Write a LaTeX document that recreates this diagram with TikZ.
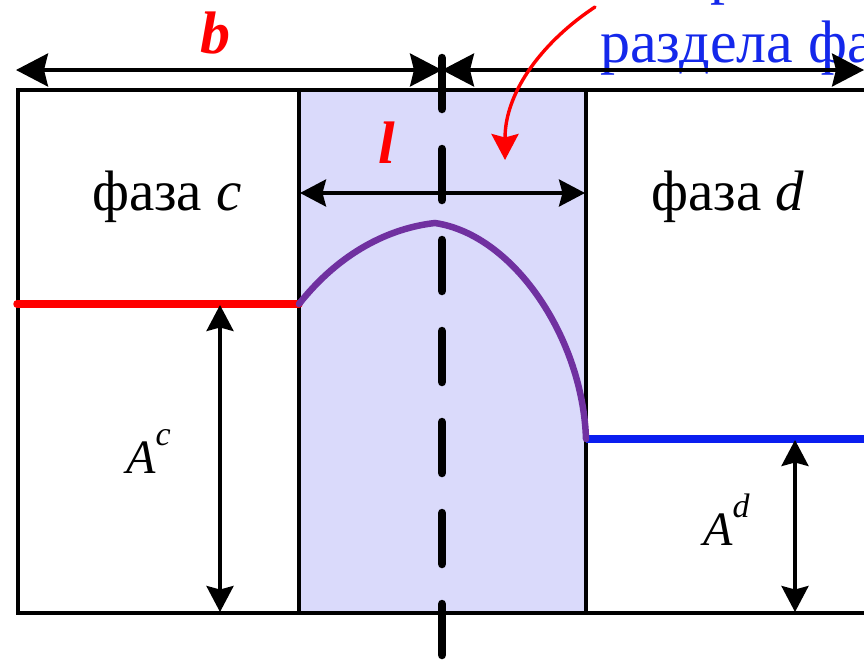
\documentclass[tikz,border=0pt]{standalone}
\usepackage{fontspec}
\setmainfont{Liberation Serif}
\newfontfamily\tms{Liberation Serif}
\usetikzlibrary{arrows.meta,calc}
\definecolor{lavfill}{RGB}{218,218,251}
\definecolor{lred}{RGB}{255,0,0}
\definecolor{lblue}{RGB}{10,30,240}
\definecolor{lpurple}{RGB}{112,48,160}
\definecolor{tblue}{RGB}{20,40,235}
\begin{document}
\begin{tikzpicture}[x=1pt,y=-1pt]
\tikzset{
  thinline/.style={line width=3.4pt},
  bigtip/.tip={Stealth[length=32pt,width=33pt,inset=4pt]},
  smalltip/.tip={Stealth[length=26pt,width=27pt,inset=3.5pt]},
  bigdim/.style={line width=3.4pt,bigtip-bigtip},
  smalldim/.style={line width=3.4pt,smalltip-smalltip},
  level/.style={line width=7.5pt,line cap=round}
}
\useasboundingbox (0,0) rectangle (864,662);

% interface layer
\fill[lavfill] (301,91) rectangle (584,612);

% box outline
\draw[thinline] (864,90) -- (18,90) -- (18,613) -- (864,613);
\draw[thinline] (299,90) -- (299,613);
\draw[thinline] (586,90) -- (586,613);

% levels
\coordinate (redL) at (17,304);
\coordinate (redR) at (299,304);
\coordinate (bluL) at (586,439);
\coordinate (bluR) at (864,439);
\draw[level,lred] (redL) -- (redR);
\draw[level,lblue,line cap=butt] (bluL) -- (bluR);

% profile in the layer
\coordinate (peak) at (435,223);
\draw[line width=6.5pt,lpurple,line cap=round] (redR) .. controls (340,252) and (390,228) .. (peak)
   .. controls (515,235) and (583,340) .. (bluL);

% centre line
\coordinate (cTop) at (442,58);
\coordinate (cBot) at (442,656);
\draw[line width=8.5pt,line cap=round,dash pattern=on 51pt off 40pt] (cTop) -- (cBot);

% labels
\node[font=\tms\fontsize{60}{72}\selectfont\bfseries\itshape,text=lred,anchor=base,inner sep=0pt] (b) at (215,53) {b};
\node[font=\tms\fontsize{60}{72}\selectfont\bfseries\itshape,text=lred,anchor=base,inner sep=0pt] (l) at (387,163) {l};
\node[font=\tms\fontsize{57}{68}\selectfont,anchor=base,inner sep=0pt] (fc) at (167,210) {фаза \textit{c}};
\node[font=\tms\fontsize{57}{68}\selectfont,anchor=base,inner sep=0pt] (fd) at (728,210) {фаза \textit{d}};
\node[font=\tms\fontsize{48}{58}\selectfont,anchor=base west,inner sep=0pt] (Ac) at (126,473) {\textit{A}{\fontsize{34}{40}\selectfont\raisebox{28pt}{\textit{c}}}};
\node[font=\tms\fontsize{48}{58}\selectfont,anchor=base west,inner sep=0pt] (Ad) at (703,545) {\textit{A}{\fontsize{34}{40}\selectfont\raisebox{28pt}{\textit{d}}}};
\begin{scope}
\clip (0,0) rectangle (864,662);
\node[font=\tms\fontsize{60}{72}\selectfont,text=tblue,anchor=base west,inner sep=0pt] (rz) at (600,62) {раздела фаз};
\node[font=\tms\fontsize{60}{72}\selectfont,text=tblue,anchor=base,inner sep=0pt] (pov) at ($(rz.base)+(0,-70)$) {Поверхность};
\end{scope}

% dimension arrows
\coordinate (tL) at (16,70);
\coordinate (tM) at (442,70);
\coordinate (tR) at (864,70);
\draw[bigdim] (tL) -- (tM);
\draw[bigdim] (tM) -- (tR);

\coordinate (lL) at (300,193);
\coordinate (lR) at (585,193);
\draw[smalldim] (lL) -- (lR);

\coordinate (acT) at (220,305);
\coordinate (acB) at (220,612);
\draw[smalldim] (acT) -- (acB);

\coordinate (adT) at (795,440);
\coordinate (adB) at (795,612);
\draw[smalldim] (adT) -- (adB);

% curved arrow to the layer
\coordinate (nS) at (595,7);
\coordinate (nE) at (505,160);
\draw[line width=3.4pt,lred,line cap=round,-{Stealth[length=26pt,width=27pt,inset=3.5pt]}]
  (nS) .. controls (545,40) and (505,90) .. (nE);
\end{tikzpicture}
\end{document}
